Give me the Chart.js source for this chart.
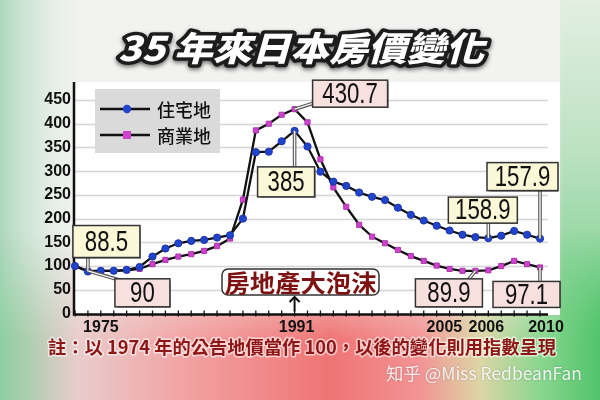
<!DOCTYPE html>
<html>
<head>
<meta charset="utf-8">
<script src="https://cdn.jsdelivr.net/npm/chart.js"></script>
<style>
html,body{margin:0;padding:0;overflow:hidden;background:#f2f2f0;}
canvas{display:block;}
</style>
</head>
<body>
<canvas id="c" width="600" height="400"></canvas>
<script>
// ---- data ----
const years = ['1974','1975','1976','1977','1978','1979','1980','1981','1982','1983','1984','1985','1986','1987','1988','1989','1990','1991','1992','1993','1994','1995','1996','1997','1998','1999','2000','2001','2002','2003','2004','2005','2006','2007','2008','2009','2010'];
const residential = [100,88.5,90,90,92,98,120,137,148,153,155,160,165,200,340,341,363,385,352,299,278,269,255,246,239,223,208,196,185,175,166,161,158.9,164,174,166,157.9];
const commercial  = [100,90,90,90,91,94,104,113,120,125,132,142,158,240,386,400,419,430.7,403,325,266,225,187,162,148,134,121,111,101,94,90,89.9,91,100,111,104,97.1];
const seriesNames = ['住宅地','商業地'];
const xTickYears = ['1975','1991','2005','2006','2010'];
const yTicks = [0,50,100,150,200,250,300,350,400,450];
const titleText = '35 年來日本房價變化';
const noteText = '註：以 1974 年的公告地價當作 100，以後的變化則用指數呈現';
const bubbleText = '房地產大泡沫';
const bubbleYear = '1991';
const watermark = '知乎 @Miss RedbeanFan';
const labelled = [[0,'1975'],[1,'1975'],[0,'1991'],[1,'1991'],[0,'2006'],[0,'2010'],[1,'2005'],[1,'2010']];

// ---- layout / style (not data) ----
const xNudge = {'1975':13,'1991':2,'2005':-31,'2006':-2,'2010':6};
const YEL = '#fbf8d8', PNK = '#f8e0de';
const annLayout = {
  '0-1975':{box:[-15,-46,67,32], lead:[0,-14], bg:YEL},
  '1-1975':{box:[27,8,55,28], lead:[34,10], bg:PNK},
  '0-1991':{box:[-37,36,57,30], lead:[0,36], bg:YEL},
  '1-1991':{box:[18,-29,75,27], lead:[22,-7], bg:PNK},
  '0-2006':{box:[-40,-41,69,26], lead:[0,-15], bg:YEL},
  '0-2010':{box:[-53,-76,71,28], lead:[0,-48], bg:YEL},
  '1-2005':{box:[-60,8,67,28], lead:[-8,10], bg:PNK},
  '1-2010':{box:[-47,14,67,26], lead:[0,14], bg:PNK}
};
const CJK = "'Noto Sans CJK TC','Noto Sans CJK SC',sans-serif";

function fitText(ctx, text, cx, cy, targetW, fn){
  const w = ctx.measureText(text).width;
  const sx = targetW / w;
  ctx.save();
  ctx.translate(cx, cy);
  ctx.scale(sx, 1);
  ctx.textAlign = 'center';
  ctx.textBaseline = 'middle';
  fn(text);
  ctx.restore();
}

const bgPlugin = {
  id: 'bg',
  beforeDraw(chart){
    const ctx = chart.ctx;
    ctx.save();
    ctx.fillStyle = '#f2f2f0';
    ctx.fillRect(0,0,600,400);
    // left pale green
    let g = ctx.createLinearGradient(0,0,80,0);
    g.addColorStop(0,'rgba(170,214,186,0.95)');
    g.addColorStop(1,'rgba(220,236,224,0)');
    ctx.fillStyle = g; ctx.fillRect(0,0,80,400);
    // right green strip
    g = ctx.createLinearGradient(0,0,0,400);
    g.addColorStop(0,'#e2efe2'); g.addColorStop(0.35,'#bfe2c4'); g.addColorStop(1,'#5cc876');
    ctx.fillStyle = g; ctx.fillRect(560,0,40,400);
    g = ctx.createLinearGradient(540,0,600,0);
    g.addColorStop(0,'rgba(242,242,240,0.9)'); g.addColorStop(0.4,'rgba(242,242,240,0)');
    ctx.fillStyle = g; ctx.fillRect(540,0,60,400);
    // bottom band
    const off = document.createElement('canvas'); off.width = 600; off.height = 400;
    const o = off.getContext('2d');
    g = o.createLinearGradient(0,0,600,0);
    g.addColorStop(0,'#8ccfa0'); g.addColorStop(0.13,'#e9cccc'); g.addColorStop(0.3,'#f2a4a4');
    g.addColorStop(0.55,'#ef7474'); g.addColorStop(0.7,'#f29494'); g.addColorStop(0.8,'#dcd6a6');
    g.addColorStop(0.9,'#8ad690'); g.addColorStop(1,'#50c46a');
    o.fillStyle = g; o.fillRect(0,230,600,170);
    o.globalCompositeOperation = 'destination-in';
    g = o.createLinearGradient(0,230,0,340);
    g.addColorStop(0,'rgba(0,0,0,0)'); g.addColorStop(1,'rgba(0,0,0,1)');
    o.fillStyle = g; o.fillRect(0,230,600,170);
    ctx.drawImage(off,0,0);
    // white panel
    ctx.fillStyle = '#ffffff';
    ctx.fillRect(73,82,487,233);
    // grid lines
    const ys = chart.scales.y;
    ctx.strokeStyle = '#d4d4d4'; ctx.lineWidth = 1.5;
    yTicks.forEach(v => {
      if (v === 0) return;
      const y = Math.round(ys.getPixelForValue(v)) + 0.5;
      ctx.beginPath(); ctx.moveTo(75,y); ctx.lineTo(548,y); ctx.stroke();
    });
    ctx.restore();
  },
  beforeDatasetsDraw(chart){
    const ctx = chart.ctx, xs = chart.scales.x, ys = chart.scales.y;
    const y0 = ys.getPixelForValue(0);
    ctx.save();
    ctx.strokeStyle = '#111'; ctx.lineWidth = 2.5;
    ctx.beginPath(); ctx.moveTo(74,82); ctx.lineTo(74,y0+1); ctx.lineTo(548,y0+1); ctx.stroke();
    ctx.lineWidth = 1.3;
    years.forEach((yr,i) => {
      const x = xs.getPixelForValue(i);
      ctx.beginPath(); ctx.moveTo(x,y0-3); ctx.lineTo(x,y0+3); ctx.stroke();
    });
    ctx.restore();
  },
  afterDatasetsDraw(chart){
    const ctx = chart.ctx, xs = chart.scales.x, ys = chart.scales.y;
    ctx.save();
    // legend
    ctx.fillStyle = '#dadada'; ctx.fillRect(95,89,125,64);
    const rows = [109,135];
    rows.forEach((ry,k) => {
      ctx.strokeStyle = '#111'; ctx.lineWidth = 2.5;
      ctx.beginPath(); ctx.moveTo(100,ry); ctx.lineTo(150,ry); ctx.stroke();
      if (k === 0){ ctx.fillStyle = '#2244cc'; ctx.beginPath(); ctx.arc(127,ry,4.2,0,Math.PI*2); ctx.fill(); }
      else { ctx.fillStyle = '#cc44cc'; ctx.fillRect(123,ry-4,8,8); }
      ctx.fillStyle = '#111'; ctx.font = '500 18px ' + CJK; ctx.textAlign='left'; ctx.textBaseline='middle';
      ctx.fillText(seriesNames[k], 157, ry+1);
    });
    // value annotations
    ctx.font = "30px 'Liberation Sans Narrow','Liberation Sans',sans-serif";
    const sx = 37 / ctx.measureText('385').width;
    labelled.forEach(([ds, yr]) => {
      const idx = years.indexOf(yr);
      const val = chart.data.datasets[ds].data[idx];
      const px = xs.getPixelForValue(idx), py = ys.getPixelForValue(val);
      const L = annLayout[ds + '-' + yr];
      const bx = px + L.box[0], by = py + L.box[1], bw = L.box[2], bh = L.box[3];
      // leader (double line)
      ctx.lineCap = 'butt';
      ctx.strokeStyle = '#555'; ctx.lineWidth = 3.6;
      ctx.beginPath(); ctx.moveTo(px,py); ctx.lineTo(px+L.lead[0], py+L.lead[1]); ctx.stroke();
      ctx.strokeStyle = '#f6f6f6'; ctx.lineWidth = 1.4;
      ctx.beginPath(); ctx.moveTo(px,py); ctx.lineTo(px+L.lead[0], py+L.lead[1]); ctx.stroke();
      // box
      ctx.save();
      ctx.shadowColor = 'rgba(0,0,0,0.35)'; ctx.shadowOffsetX = 1; ctx.shadowOffsetY = 1; ctx.shadowBlur = 1;
      ctx.fillStyle = L.bg; ctx.fillRect(bx,by,bw,bh);
      ctx.restore();
      ctx.strokeStyle = '#333'; ctx.lineWidth = 1.5; ctx.strokeRect(bx,by,bw,bh);
      ctx.save();
      ctx.translate(bx + bw/2, by + bh/2 + 1);
      ctx.scale(sx,1);
      ctx.fillStyle = '#111'; ctx.textAlign='center'; ctx.textBaseline='middle';
      ctx.fillText(String(val), 0, 0);
      ctx.restore();
    });
    // bubble label + arrow
    const bi = years.indexOf(bubbleYear);
    const bxp = xs.getPixelForValue(bi);
    const y0 = ys.getPixelForValue(0);
    ctx.fillStyle = '#ffffff'; ctx.strokeStyle = '#333'; ctx.lineWidth = 1.5;
    ctx.beginPath(); ctx.roundRect(222,269,157,26,6); ctx.fill(); ctx.stroke();
    ctx.font = 'bold 24px ' + CJK; ctx.fillStyle = '#7e1212';
    fitText(ctx, bubbleText, 300.5, 282.5, 152, t => ctx.fillText(t,0,0));
    ctx.strokeStyle = '#111'; ctx.lineWidth = 2;
    ctx.beginPath(); ctx.moveTo(bxp, y0-2); ctx.lineTo(bxp, 297); ctx.stroke();
    ctx.beginPath(); ctx.moveTo(bxp-5,302); ctx.lineTo(bxp,297); ctx.lineTo(bxp+5,302); ctx.stroke();
    ctx.restore();
  },
  afterDraw(chart){
    const ctx = chart.ctx, xs = chart.scales.x;
    ctx.save();
    // x labels
    ctx.font = "bold 16px 'Liberation Sans',Arial,sans-serif"; ctx.fillStyle = '#111';
    ctx.textAlign = 'center'; ctx.textBaseline = 'middle';
    xTickYears.forEach(yr => {
      const x = xs.getPixelForValue(years.indexOf(yr)) + (xNudge[yr] || 0);
      ctx.fillText(yr, x, 328);
    });
    // title
    ctx.font = 'italic 900 34px ' + CJK;
    const tg = ctx.createLinearGradient(0,32,0,64);
    tg.addColorStop(0,'#ffffff'); tg.addColorStop(0.55,'#fbecf0'); tg.addColorStop(1,'#e592a8');
    fitText(ctx, titleText, 301, 48, 366, t => {
      ctx.lineJoin = 'round';
      ctx.save();
      ctx.shadowColor = 'rgba(0,0,0,0.55)'; ctx.shadowBlur = 4; ctx.shadowOffsetY = 2;
      ctx.strokeStyle = '#1c1c1c'; ctx.lineWidth = 7; ctx.strokeText(t,0,0);
      ctx.restore();
      ctx.fillStyle = tg; ctx.fillText(t,0,0);
    });
    // note
    ctx.font = 'bold 18px ' + CJK;
    fitText(ctx, noteText, 302, 347, 508, t => {
      ctx.lineJoin = 'round';
      ctx.strokeStyle = 'rgba(255,255,255,0.6)'; ctx.lineWidth = 3; ctx.strokeText(t,0,0);
      ctx.fillStyle = '#8e1616'; ctx.fillText(t,0,0);
    });
    // watermark
    ctx.font = "17px 'Noto Sans CJK SC','Noto Sans',sans-serif";
    fitText(ctx, watermark, 484, 374, 196, t => {
      ctx.shadowColor = 'rgba(0,0,0,0.3)'; ctx.shadowBlur = 2;
      ctx.fillStyle = 'rgba(255,255,255,0.88)'; ctx.fillText(t,0,0);
    });
    ctx.restore();
  }
};

new Chart(document.getElementById('c'), {
  type: 'line',
  data: {
    labels: years,
    datasets: [
      { label: seriesNames[0], data: residential, borderColor: '#111', borderWidth: 2.3,
        pointStyle: 'circle', pointRadius: 3.6, pointBackgroundColor: '#2244cc', pointBorderColor: '#1a35a8', pointBorderWidth: 1,
        tension: 0, clip: false },
      { label: seriesNames[1], data: commercial, borderColor: '#111', borderWidth: 2.3,
        pointStyle: 'rect', pointRadius: 3.6, pointBackgroundColor: '#cc44cc', pointBorderColor: '#b030b0', pointBorderWidth: 1,
        tension: 0, clip: false }
    ]
  },
  options: {
    responsive: false,
    animation: false,
    devicePixelRatio: 1,
    layout: { padding: { left: 0, right: 60, top: 82, bottom: 0 } },
    plugins: { legend: { display: false }, tooltip: { enabled: false }, title: { display: false } },
    scales: {
      x: {
        type: 'category', offset: false,
        grid: { display: false, drawTicks: false }, border: { display: false },
        ticks: { display: false },
        afterFit: s => { s.height = 86.5; }
      },
      y: {
        min: 0, max: 488,
        grid: { display: false, drawTicks: false }, border: { display: false },
        ticks: { stepSize: 50, padding: 4, color: '#111', font: { family: "'Liberation Sans',Arial,sans-serif", size: 16, weight: 'bold' } },
        afterBuildTicks: s => { s.ticks = yTicks.map(v => ({ value: v })); },
        afterFit: s => { s.width = 75; }
      }
    }
  },
  plugins: [bgPlugin]
});
</script>
</body>
</html>
